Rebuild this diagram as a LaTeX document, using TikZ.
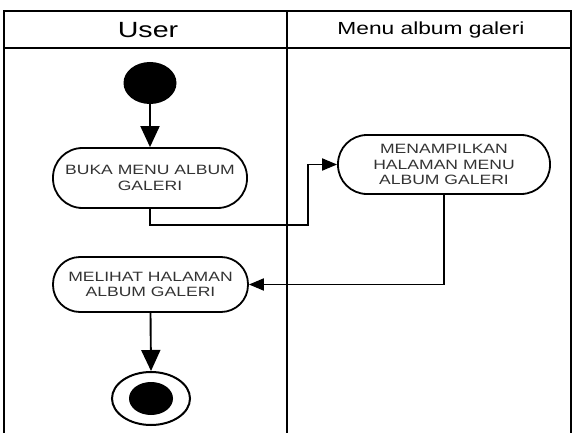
\documentclass[tikz,border=0pt]{standalone}
\usepackage{fontspec}
\setmainfont{Liberation Sans}[FakeStretch=1.3]
\usetikzlibrary{arrows.meta,shapes.geometric}
\tikzset{
  frameline/.style={line width=2.4pt, line cap=rect},
  actbox/.style={draw, line width=1.8pt, align=center,
    font=\fontsize{13.5}{15.5}\selectfont, text=black!80, inner sep=0pt},
  flow/.style={line width=1.9pt},
  varrow/.style={-{Triangle[length=21pt,width=19pt]}},
  harrow/.style={-{Triangle[length=15pt,width=12pt]}},
}
\begin{document}
\begin{tikzpicture}[x=1pt,y=-1pt]
\useasboundingbox (0,0) rectangle (578,433);
% frame
\draw[frameline] (4,433) -- (4,11) -- (571,11) -- (571,433);
\draw[frameline] (4,48) -- (571,48);
\draw[frameline] (287,11) -- (287,433);
\node (hUser) at (148,30) {\fontsize{22}{24}\selectfont User};
\node (hMenu) at (431,30) {\fontsize{17.5}{20}\selectfont Menu album galeri};
% nodes
\node[ellipse, fill=black, minimum width=53pt, minimum height=42pt, inner sep=0pt] (start) at (150,83) {};
\node[actbox, rounded corners=29.5pt, minimum width=194pt, minimum height=60pt] (buka) at (150,178) {BUKA MENU ALBUM\\GALERI};
\node[actbox, rounded corners=29pt, minimum width=212pt, minimum height=59pt] (menam) at (444,164.5) {MENAMPILKAN\\HALAMAN MENU\\ALBUM GALERI};
\node[actbox, rounded corners=27pt, minimum width=195pt, minimum height=55pt] (mel) at (150.5,284.5) {MELIHAT HALAMAN\\ALBUM GALERI};
\node[ellipse, draw, line width=2pt, minimum width=78pt, minimum height=53pt, inner sep=0pt] (endo) at (151,398.5) {};
\node[ellipse, fill=black, minimum width=44pt, minimum height=33pt, inner sep=0pt] (endi) at (endo.center) {};
\coordinate (c1) at (308,225);
% connectors
\draw[flow, varrow] (start.south) -- (buka.north);
\draw[flow, harrow] (buka.south) |- (c1) |- (menam.west);
\draw[flow, harrow] (menam.south) |- (mel.east);
\draw[flow, varrow] (mel.south) -- (endo.north);
\end{tikzpicture}
\end{document}
